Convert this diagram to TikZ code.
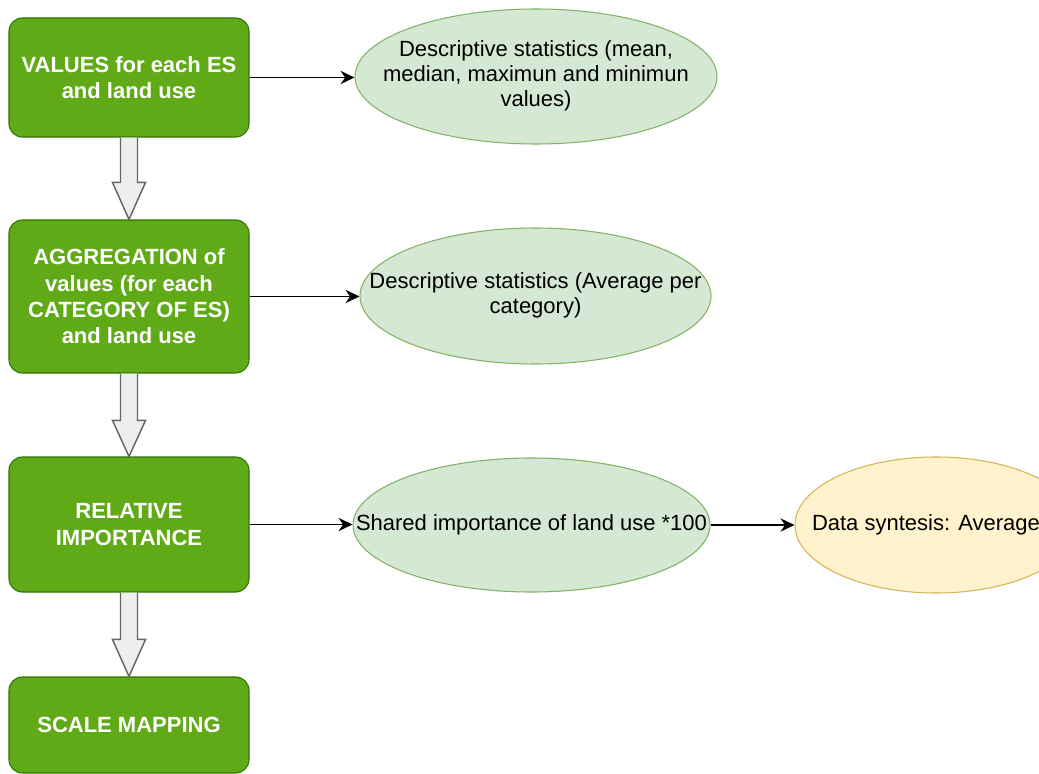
\documentclass[tikz,border=0pt]{standalone}
\usepackage{fontspec}
\setmainfont{Liberation Sans}
\usetikzlibrary{arrows.meta,calc,shapes.geometric}
\definecolor{boxgreen}{HTML}{60A917}
\definecolor{boxgreenline}{HTML}{2D7600}
\definecolor{ellfill}{HTML}{D5E8D4}
\definecolor{ellline}{HTML}{82B366}
\definecolor{yelfill}{HTML}{FFF2CC}
\definecolor{yelline}{HTML}{D6B656}
\definecolor{blockfill}{HTML}{EEEEEE}
\definecolor{blockline}{HTML}{666666}
\begin{document}
\begin{tikzpicture}[x=0.75pt,y=-0.75pt,
  greenbox/.style={rectangle, rounded corners=10pt, fill=boxgreen, draw=boxgreenline, line width=0.8pt,
    minimum width=180pt, text=white, font=\fontsize{16.5}{19.7}\selectfont\bfseries, align=center, inner sep=0pt},
  greenell/.style={ellipse, fill=ellfill, draw=ellline, line width=0.8pt, inner sep=0pt,
    font=\fontsize{16.5}{19}\selectfont, text=black},
  yellowell/.style={greenell, fill=yelfill, draw=yelline},
  flowarrow/.style={-{Stealth[length=10.5pt,width=10pt,inset=3.5pt]}, line width=0.9pt, black},
  blockarrow/.style={fill=blockfill, draw=blockline, line width=1.1pt, line join=miter}
]
\useasboundingbox (0,0) rectangle (1039,774);
\fill[white] (0,0) rectangle (1039,774);

% process boxes
\node[greenbox, minimum height=89.25pt]  (b1) at (129,77.5)  {VALUES for each ES\\and land use};
\node[greenbox, minimum height=114.75pt] (b2) at (129,296.5) {AGGREGATION of\\values (for each\\CATEGORY OF ES)\\and land use};
\node[greenbox, minimum height=101.25pt] (b3) at (129,524.5) {RELATIVE\\IMPORTANCE};
\node[greenbox, minimum height=72pt]     (b4) at (129,725)   {SCALE MAPPING};

% ellipses
\node[greenell, minimum width=271.5pt, minimum height=101.25pt] (e1) at (536,76.5)
  {\makebox[0pt]{\begin{tabular}{@{}c@{}}Descriptive statistics (mean,\\median, maximun and minimun\\values)\end{tabular}}};
\node[greenell, minimum width=263.25pt, minimum height=102pt] (e2) at (535.5,296)
  {\makebox[0pt]{\begin{tabular}{@{}c@{}}Descriptive statistics (Average per\\category)\end{tabular}}};
\node[greenell, minimum width=267.75pt, minimum height=100.5pt] (e3) at (531.5,525)
  {\makebox[0pt]{Shared importance of land use *100}};
\node[yellowell, minimum width=211.5pt, minimum height=102pt] (e4) at (936,525)
  {\makebox[0pt][l]{\hspace*{-93pt}Data syntesis: Average}};

% connectors
\draw[flowarrow] (b1.east) -- (b1.east -| e1.west);
\draw[flowarrow] (b2.east) -- (b2.east -| e2.west);
\draw[flowarrow] (b3.east) -- (b3.east -| e3.west);
\draw[flowarrow] (e3.east) -- (e4.west);

% block arrows
\draw[blockarrow] ($(b1.south)+(-8.5,0)$) -- ($(b2.north)+(-8.5,-37)$) -- ($(b2.north)+(-16.5,-37)$)
  -- (b2.north) -- ($(b2.north)+(16.5,-37)$) -- ($(b2.north)+(8.5,-37)$) -- ($(b1.south)+(8.5,0)$);
\draw[blockarrow] ($(b2.south)+(-8.5,0)$) -- ($(b3.north)+(-8.5,-36)$) -- ($(b3.north)+(-16.5,-36)$)
  -- (b3.north) -- ($(b3.north)+(16.5,-36)$) -- ($(b3.north)+(8.5,-36)$) -- ($(b2.south)+(8.5,0)$);
\draw[blockarrow] ($(b3.south)+(-8.5,0)$) -- ($(b4.north)+(-8.5,-37)$) -- ($(b4.north)+(-16.5,-37)$)
  -- (b4.north) -- ($(b4.north)+(16.5,-37)$) -- ($(b4.north)+(8.5,-37)$) -- ($(b3.south)+(8.5,0)$);
\end{tikzpicture}
\end{document}
